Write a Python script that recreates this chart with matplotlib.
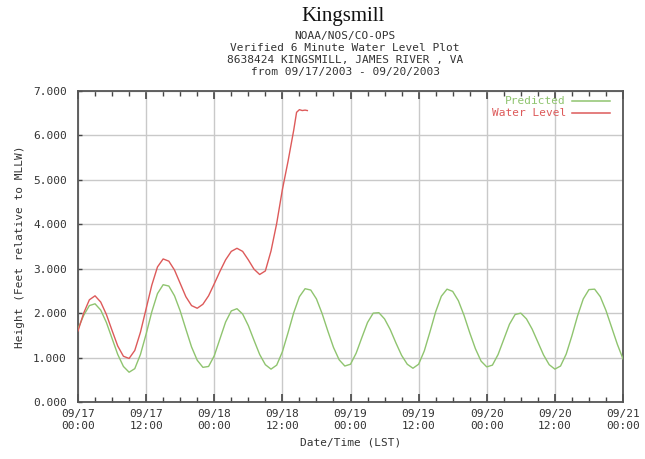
import numpy as np
import matplotlib
matplotlib.use("Agg")
import matplotlib.pyplot as plt
from matplotlib.ticker import MultipleLocator, FixedLocator

# ---- data (hours since 09/17/2003 00:00 LST, feet relative to MLLW) ----
pred_hours = list(range(0, 97))
predicted = [
    1.65, 1.95, 2.17, 2.21, 2.07, 1.79, 1.43, 1.07, 0.80, 0.67,
    0.75, 1.07, 1.53, 2.03, 2.44, 2.64, 2.61, 2.39, 2.05, 1.64,
    1.24, 0.94, 0.78, 0.80, 1.04, 1.42, 1.80, 2.05, 2.10, 1.98,
    1.72, 1.39, 1.07, 0.84, 0.74, 0.83, 1.13, 1.56, 2.01, 2.37,
    2.55, 2.52, 2.32, 1.99, 1.60, 1.23, 0.95, 0.81, 0.85, 1.10,
    1.45, 1.79, 2.00, 2.01, 1.87, 1.63, 1.33, 1.05, 0.85, 0.76,
    0.85, 1.15, 1.58, 2.03, 2.38, 2.54, 2.49, 2.28, 1.95, 1.56,
    1.20, 0.92, 0.79, 0.83, 1.07, 1.41, 1.75, 1.97, 2.00, 1.87,
    1.64, 1.35, 1.06, 0.84, 0.74, 0.81, 1.08, 1.49, 1.94, 2.32,
    2.53, 2.54, 2.37, 2.06, 1.68, 1.30, 0.97,
]

water_hours = [
    0, 1, 2, 3, 4, 5, 6, 7, 8, 9,
    10, 11, 12, 13, 14, 15, 16, 17, 18, 19,
    20, 21, 22, 23, 24, 25, 26, 27, 28, 29,
    30, 31, 32, 33, 34, 35, 36, 37, 38, 38.5,
    39, 39.5, 40, 40.4,
]
water_level = [
    1.60, 2.00, 2.30, 2.39, 2.25, 1.97, 1.61, 1.26, 1.03, 0.98,
    1.16, 1.57, 2.10, 2.63, 3.04, 3.22, 3.17, 2.97, 2.67, 2.37,
    2.17, 2.11, 2.20, 2.39, 2.66, 2.94, 3.20, 3.39, 3.46, 3.39,
    3.20, 2.99, 2.87, 2.95, 3.40, 4.02, 4.78, 5.42, 6.12, 6.52,
    6.58, 6.56, 6.57, 6.56,
]

x_ticks = [0, 12, 24, 36, 48, 60, 72, 84, 96]
x_labels = ["09/17\n00:00", "09/17\n12:00", "09/18\n00:00", "09/18\n12:00",
            "09/19\n00:00", "09/19\n12:00", "09/20\n00:00", "09/20\n12:00",
            "09/21\n00:00"]
y_ticks = [0, 1, 2, 3, 4, 5, 6, 7]
y_labels = ["0.000", "1.000", "2.000", "3.000", "4.000", "5.000", "6.000", "7.000"]

title = "Kingsmill"
subtitle = ["NOAA/NOS/CO-OPS",
            "Verified 6 Minute Water Level Plot",
            "8638424 KINGSMILL, JAMES RIVER , VA",
            "from 09/17/2003 - 09/20/2003"]

# ---- style ----
W, H = 645, 459
mono = "DejaVu Sans Mono"
txt_col = "#333333"
green = "#8fc46f"
red = "#dd5a5a"
fs = 8

fig = plt.figure(figsize=(W / 100, H / 100), dpi=100)
ax = fig.add_axes([78 / W, 1 - 402 / H, (623 - 78) / W, (402 - 91) / H])

ax.plot(pred_hours, predicted, color=green, lw=1.0, zorder=3)
ax.plot(water_hours, water_level, color=red, lw=1.0, zorder=4)

ax.set_xlim(0, 96)
ax.set_ylim(0, 7)
ax.xaxis.set_major_locator(FixedLocator(x_ticks))
ax.xaxis.set_minor_locator(MultipleLocator(3))
ax.set_xticklabels(x_labels, fontfamily=mono, fontsize=fs, color=txt_col)
ax.yaxis.set_major_locator(FixedLocator(y_ticks))
ax.set_yticklabels(y_labels, fontfamily=mono, fontsize=fs, color=txt_col)

ax.grid(True, which="major", color="#c9c9c9", lw=1.0, zorder=0)
ax.tick_params(axis="x", which="major", direction="in", length=6, width=1.2,
               top=True, bottom=True, color="#444444", pad=5)
ax.tick_params(axis="x", which="minor", direction="in", length=3.5, width=1.0,
               top=True, bottom=True, color="#444444")
ax.tick_params(axis="y", which="major", direction="in", length=3, width=1.0,
               left=True, right=False, color="#444444", pad=8)
for s in ax.spines.values():
    s.set_color("#555555")
    s.set_linewidth(1.3)

ax.set_xlabel("Date/Time (LST)", fontfamily=mono, fontsize=fs, color=txt_col, labelpad=5)
ax.set_ylabel("Height (Feet relative to MLLW)", fontfamily=mono, fontsize=fs,
              color=txt_col, labelpad=6)

# legend drawn as text + line sample in axes coordinates
ax.text(0.895, 0.968, "Predicted", transform=ax.transAxes, ha="right", va="center",
        fontfamily=mono, fontsize=fs, color=green)
ax.plot([0.907, 0.977], [0.968, 0.968], transform=ax.transAxes, color=green, lw=1.1)
ax.text(0.895, 0.93, "Water Level", transform=ax.transAxes, ha="right", va="center",
        fontfamily=mono, fontsize=fs, color=red)
ax.plot([0.907, 0.977], [0.93, 0.93], transform=ax.transAxes, color=red, lw=1.1)

fig.text(0.532, 1 - 17 / H, title, ha="center", va="center",
         fontfamily="Liberation Serif", fontsize=15, color="#111111")
for i, line in enumerate(subtitle):
    fig.text(0.535, 1 - (36 + 12 * i) / H, line, ha="center", va="center",
             fontfamily=mono, fontsize=fs, color=txt_col)

fig.savefig("out.png", dpi=100)
